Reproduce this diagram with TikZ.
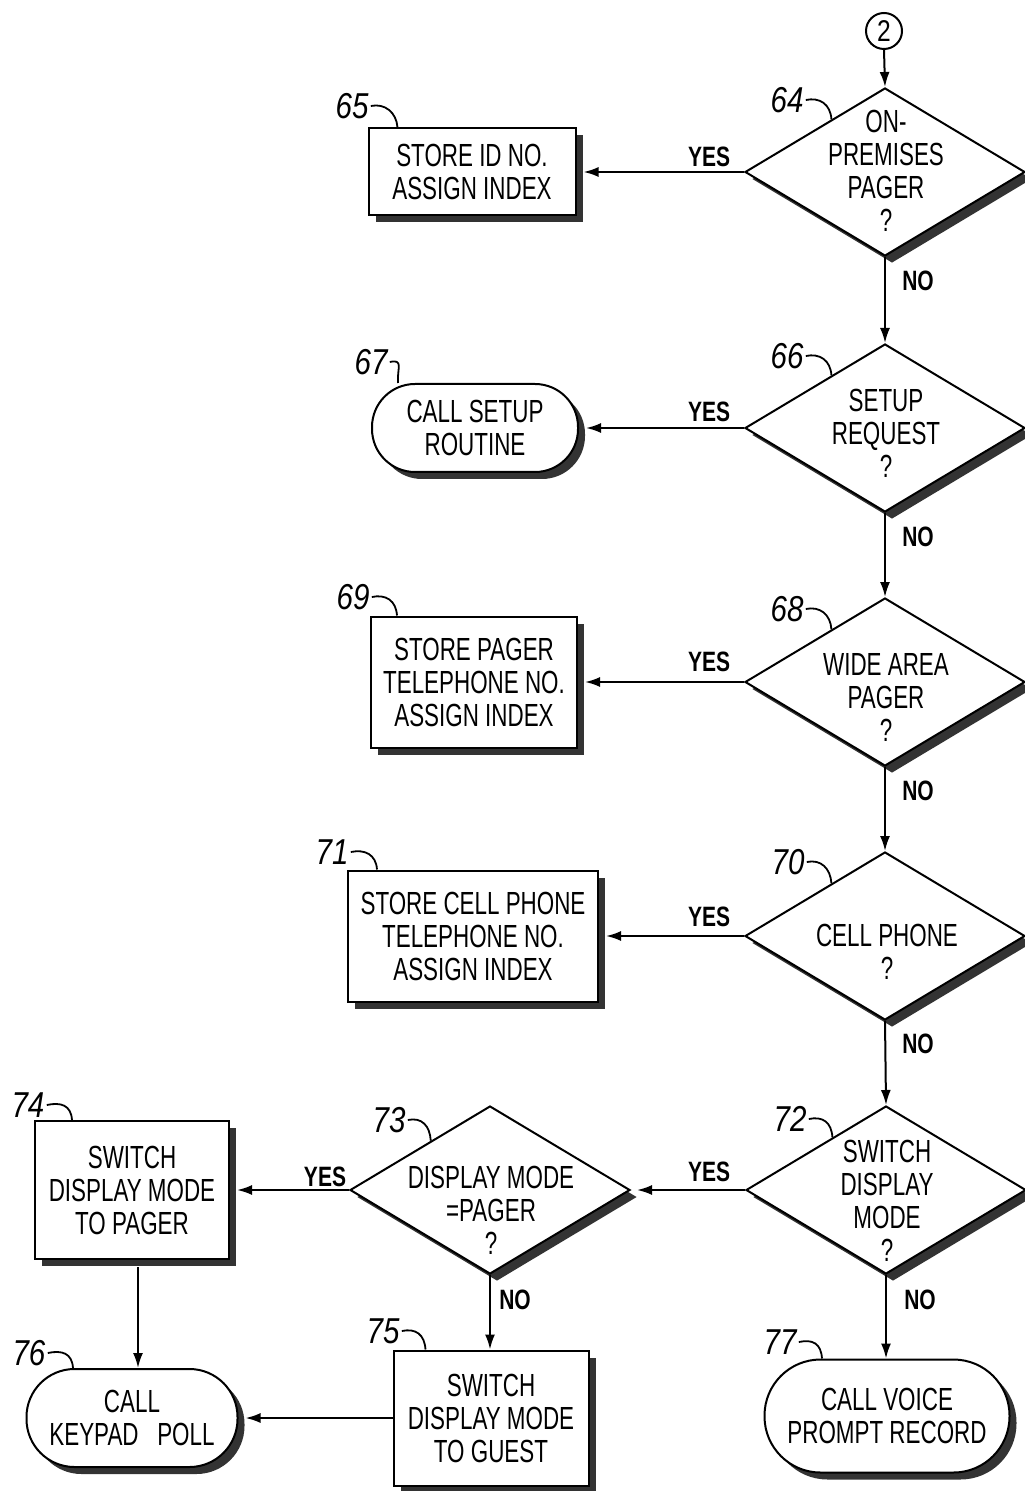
\documentclass[tikz,border=0pt]{standalone}
\usepackage{fontspec}
\setmainfont[FakeStretch=0.7]{Liberation Sans}
\newfontfamily\numfam[FakeStretch=0.82]{Liberation Sans}
\newfontfamily\yesfam[FakeStretch=0.75]{Liberation Sans}
\usetikzlibrary{shapes.geometric,shadows,arrows.meta,calc}
\newcommand\boxfont{\fontsize{16}{16.5}\selectfont}
\tikzset{
  base/.style={draw=black, line width=1pt, fill=white,
    drop shadow={shadow xshift=3.5pt, shadow yshift=-3.5pt, fill=black!80, opacity=1},
    font=\boxfont, align=center, inner sep=0pt},
  procbox/.style={base, rectangle},
  termbox/.style={base, rectangle, rounded corners=#1},
  decbox/.style={base, diamond, minimum width=140pt, minimum height=84pt},
  dtext/.style={font=\boxfont, align=center, inner sep=0pt},
  numlab/.style={font=\numfam\itshape\fontsize{18}{18}\selectfont, inner sep=1pt},
  yeslab/.style={font=\yesfam\bfseries\fontsize{14}{14}\selectfont, inner sep=0pt},
  arr/.style={line width=1pt, -{Latex[length=7.5pt,width=5pt]}},
  lead/.style={line width=0.9pt}
}
\begin{document}
\begin{tikzpicture}[x=0.5pt,y=-0.5pt]
\fill[white] (0,0) rectangle (1024,1491);
\useasboundingbox (0,0) rectangle (1024,1491);

% connector circle
\node[circle, draw, line width=1pt, minimum size=18pt, inner sep=0pt,
  font=\numfam\fontsize{15}{15}\selectfont] (c2) at (884,31) {2};

% decisions
\node[decbox] (d64) at (885,172) {};
\node[decbox] (d66) at (885,428) {};
\node[decbox] (d68) at (885,682) {};
\node[decbox] (d70) at (885,936) {};
\node[decbox] (d72) at (886,1190) {};
\node[decbox] (d73) at (490,1190) {};

\node[dtext] (d64t) at ($(d64)+(1,-1)$) {ON-\\PREMISES\\PAGER\\?};
\node[dtext] (d66t) at ($(d66)+(1,5)$) {SETUP\\REQUEST\\?};
\node[dtext] (d68t) at ($(d68)+(1,15)$) {WIDE AREA\\PAGER\\?};
\node[dtext] (d70t) at ($(d70)+(2,16)$) {CELL PHONE\\?};
\node[dtext] (d72t) at ($(d72)+(1,11)$) {SWITCH\\DISPLAY\\MODE\\?};
\node[dtext] (d73t) at ($(d73)+(1,20)$) {DISPLAY MODE\\=PAGER\\?};

% process boxes and terminals
\node[procbox, minimum width=103.5pt, minimum height=43.5pt] (b65) at (472,172) {STORE ID NO.\\ASSIGN INDEX};
\node[termbox=21.5pt, minimum width=103pt, minimum height=44pt] (t67) at (475,428) {CALL SETUP\\ROUTINE};
\node[procbox, minimum width=103pt, minimum height=65.5pt] (b69) at (474,682) {STORE PAGER\\TELEPHONE NO.\\ASSIGN INDEX};
\node[procbox, minimum width=125pt, minimum height=65.5pt] (b71) at (473,936) {STORE CELL PHONE\\TELEPHONE NO.\\ASSIGN INDEX};
\node[procbox, minimum width=97pt, minimum height=69pt] (b74) at (132,1190) {SWITCH\\DISPLAY MODE\\TO PAGER};
\node[procbox, minimum width=97.5pt, minimum height=67.5pt] (b75) at (491,1418) {SWITCH\\DISPLAY MODE\\TO GUEST};
\node[termbox=24pt, minimum width=105.5pt, minimum height=49pt] (t76) at (132,1418) {CALL\\KEYPAD\ \ \ POLL};
\node[termbox=28pt, minimum width=122.5pt, minimum height=56.5pt] (t77) at (887,1416) {CALL VOICE\\PROMPT RECORD};

% connectors
\draw[arr] (c2.south) -- (d64.north);
\draw[arr] (d64.south) -- (d66.north);
\draw[arr] (d66.south) -- (d68.north);
\draw[arr] (d68.south) -- (d70.north);
\draw[arr] (d70.south) -- (d72.north);
\draw[arr] (d64.west) -- ([xshift=3.5pt]b65.east);
\draw[arr] (d66.west) -- ([xshift=3.5pt]t67.east);
\draw[arr] (d68.west) -- ([xshift=3.5pt]b69.east);
\draw[arr] (d70.west) -- ([xshift=3.5pt]b71.east);
\draw[arr] (d72.west) -- ([xshift=3pt]d73.east);
\draw[arr] (d73.west) -- ([xshift=3.5pt]b74.east);
\draw[arr] (d73.south) -- (d73.south |- b75.north);
\draw[arr] (d72.south) -- (d72.south |- t77.north);
\coordinate (a74) at ($(b74.south)+(6,7)$);
\draw[arr] (a74) -- (a74 |- t76.north);
\draw[arr] (b75.west) -- ([xshift=3.5pt]t76.east);

% YES / NO
\node[yeslab] (y64) at (709,157) {YES};
\node[yeslab] (y66) at (709,412) {YES};
\node[yeslab] (y68) at (709,662) {YES};
\node[yeslab] (y70) at (709,917) {YES};
\node[yeslab] (y72) at (709,1172) {YES};
\node[yeslab] (y73) at (325,1177) {YES};
\node[yeslab] (o64) at (918,281) {NO};
\node[yeslab] (o66) at (918,537) {NO};
\node[yeslab] (o68) at (918,791) {NO};
\node[yeslab] (o70) at (918,1044) {NO};
\node[yeslab] (o72) at (920,1300) {NO};
\node[yeslab] (o73) at (515,1300) {NO};

% reference numerals
\node[numlab] (n64) at (787,100) {64};
\node[numlab] (n65) at (352,106) {65};
\node[numlab] (n66) at (787,356) {66};
\node[numlab] (n67) at (371,362) {67};
\node[numlab] (n68) at (787,609) {68};
\node[numlab] (n69) at (353,597) {69};
\node[numlab] (n70) at (788,862) {70};
\node[numlab] (n71) at (332,852) {71};
\node[numlab] (n72) at (790,1119) {72};
\node[numlab] (n73) at (389,1120) {73};
\node[numlab] (n74) at (28,1105) {74};
\node[numlab] (n75) at (383,1331) {75};
\node[numlab] (n76) at (29,1353) {76};
\node[numlab] (n77) at (780,1342) {77};

\coordinate (e64) at ($(d64.west)!0.62!(d64.north)$);
\coordinate (e66) at ($(d66.west)!0.62!(d66.north)$);
\coordinate (e68) at ($(d68.west)!0.62!(d68.north)$);
\coordinate (e70) at ($(d70.west)!0.62!(d70.north)$);
\coordinate (e72) at ($(d72.west)!0.62!(d72.north)$);
\coordinate (e73) at ($(d73.west)!0.58!(d73.north)$);
\coordinate (e65) at ($(b65.north west)+(30,0)$);
\coordinate (e67) at ($(t67.north)+(-77,0)$);
\coordinate (e69) at ($(b69.north west)+(27,0)$);
\coordinate (e71) at ($(b71.north west)+(30,0)$);
\coordinate (e74) at ($(b74.north west)+(38,0)$);
\coordinate (e75) at ($(b75.north west)+(33,0)$);
\coordinate (e76) at ($(t76.north)+(-59,0)$);
\coordinate (e77) at ($(t77.north)+(-65,0)$);

\foreach \k in {64,65,66,67,68,69,70,71,72,73,74,75,76,77}{
  \draw[lead] (n\k.east) .. controls +(14,-3) and +(-1,-15) .. (e\k);
}
\end{tikzpicture}
\end{document}
